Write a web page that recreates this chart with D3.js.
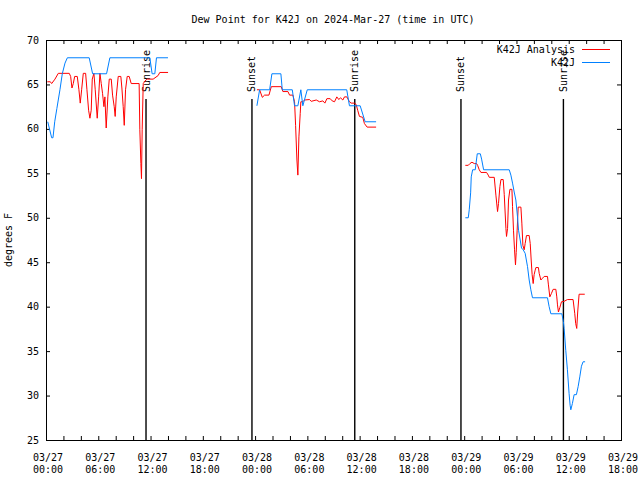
<!DOCTYPE html>
<html><head><meta charset="utf-8">
<script src="https://cdn.jsdelivr.net/npm/d3@7"></script>
<style>
html,body{margin:0;padding:0;background:#fff;}
svg{display:block;}
text{font-family:"DejaVu Sans Mono","Liberation Mono",monospace;font-size:10px;fill:#000;}
</style></head>
<body>
<svg id="chart" width="640" height="480"></svg>
<script>
// ---- data (hours since 2024-03-27 00:00 UTC, degrees F) ----
const titleText = "Dew Point for K42J on 2024-Mar-27 (time in UTC)";
const yLabel = "degrees F";
const seriesNames = ["K42J Analysis", "K42J"];
const seriesColors = ["#ff0000", "#0080ff"];
const yTicks = [25, 30, 35, 40, 45, 50, 55, 60, 65, 70];
const xLabelHours = [0, 6, 12, 18, 24, 30, 36, 42, 48, 54, 60, 66];

const analysisSeg1 = [[0.15,65.3],[0.5,65.3],[0.65,65.1],[1.03,65.6],[1.41,66.25],[2.67,66.25],[2.83,65.9],[2.98,64.6],[3.13,65.1],[3.29,65.9],[3.59,65.9],[3.78,64.4],[3.93,62.9],[4.09,64.4],[4.28,66.25],[4.55,66.25],[4.70,64.4],[4.89,62.1],[5.04,61.2],[5.19,62.1],[5.31,65.6],[5.50,66.25],[5.65,64.4],[5.88,61.2],[6.04,63.6],[6.19,66.25],[6.34,65.1],[6.49,64.0],[6.65,62.5],[6.76,63.6],[6.91,60.1],[7.10,63.6],[7.26,65.6],[7.49,65.6],[7.64,63.8],[7.83,62.5],[7.94,61.4],[8.06,63.6],[8.29,65.9],[8.59,65.9],[8.71,64.6],[8.86,62.5],[8.98,60.4],[9.13,64.4],[9.32,65.9],[9.55,65.9],[9.78,65.1],[10.69,65.1],[10.77,59.9],[10.89,56.1],[10.96,54.4],[11.04,59.9],[11.16,65.1],[11.46,65.5],[11.65,65.6],[12.30,65.6],[12.87,66.0],[13.06,66.35],[14.01,66.35]];
const analysisSeg2 = [[24.21,64.4],[24.52,64.4],[24.83,63.55],[25.09,63.8],[25.59,63.8],[25.86,64.75],[27.0,64.75],[27.19,64.2],[27.77,64.2],[27.96,63.8],[28.34,63.8],[28.53,63.05],[28.65,60.4],[28.80,56.5],[28.91,54.8],[29.03,59.1],[29.18,61.75],[29.25,63.05],[29.48,63.05],[29.68,63.25],[30.25,63.3],[30.44,63.1],[31.02,63.25],[31.40,63.05],[31.78,63.15],[32.01,62.9],[32.24,63.4],[32.62,63.4],[32.85,63.15],[33.12,63.05],[33.38,63.6],[33.61,63.3],[33.80,63.5],[34.07,63.25],[34.26,63.6],[34.53,63.6],[34.83,63.05],[35.03,62.9],[35.41,62.9],[35.60,62.75],[35.79,62.05],[35.98,61.4],[36.36,61.3],[36.55,60.6],[36.86,60.2],[37.89,60.2]];
const analysisSeg3 = [[48.13,55.9],[48.47,55.9],[48.66,56.1],[48.89,56.25],[49.16,56.1],[49.42,56.1],[49.54,55.9],[49.73,55.4],[49.92,55.1],[50.57,55.1],[50.76,54.8],[50.88,54.55],[51.45,54.55],[51.64,52.55],[51.83,50.7],[51.94,51.6],[52.10,53.5],[52.22,54.3],[52.48,54.3],[52.60,52.6],[52.79,48.8],[52.86,47.9],[52.98,48.8],[53.09,52.0],[53.25,53.2],[53.48,53.2],[53.55,51.25],[53.66,48.6],[53.78,46.4],[53.89,44.7],[53.97,46.1],[54.08,48.6],[54.20,51.2],[54.51,51.2],[54.62,49.4],[54.74,46.9],[54.89,46.4],[55.0,47.1],[55.15,48.0],[55.46,48.0],[55.58,47.1],[55.69,45.25],[55.80,43.6],[55.92,42.6],[56.03,43.6],[56.15,44.1],[56.23,44.4],[56.52,44.4],[56.61,43.75],[56.80,43.0],[56.99,43.2],[57.18,43.4],[57.56,43.4],[57.67,42.45],[57.83,41.1],[58.02,41.5],[58.21,41.95],[58.52,41.95],[58.63,41.1],[58.71,40.2],[58.82,39.4],[58.98,39.9],[59.17,40.55],[59.47,40.6],[59.85,40.8],[60.5,40.8],[60.69,39.25],[60.8,38.1],[60.92,37.55],[61.03,39.4],[61.19,41.4],[61.84,41.4]];

const obsSeg1 = [[0.2,60.8],[0.65,59.0],[0.8,59.0],[1.0,60.8],[1.25,62.3],[1.6,64.4],[1.87,66.2],[2.18,67.4],[2.45,68.0],[4.96,68.0],[5.35,66.2],[6.95,66.2],[7.33,68.0],[11.92,68.0],[12.18,66.2],[12.49,66.2],[12.68,68.0],[14.0,68.0]];
const obsSeg2 = [[24.21,62.6],[24.52,64.4],[25.67,64.4],[25.93,66.2],[26.96,66.2],[27.12,64.4],[28.27,64.4],[28.53,62.6],[28.91,62.6],[29.25,64.4],[29.48,62.6],[29.99,64.4],[34.52,64.4],[34.83,62.6],[36.06,62.6],[36.63,60.8],[37.89,60.8]];
const obsSeg3 = [[48.13,50.0],[48.47,50.0],[48.58,50.9],[48.74,52.8],[48.81,54.6],[48.97,55.4],[49.27,55.4],[49.50,57.2],[49.85,57.2],[50.0,56.6],[50.23,55.4],[53.17,55.4],[53.36,54.8],[53.55,53.9],[53.74,52.9],[53.93,52.0],[54.12,50.1],[54.24,48.6],[54.43,47.5],[54.58,46.6],[54.77,46.4],[55.0,46.0],[55.27,44.5],[55.46,43.0],[55.65,41.9],[55.84,41.0],[57.56,41.0],[57.75,40.0],[57.95,39.2],[59.21,39.2],[59.39,38.3],[59.47,37.55],[59.66,35.1],[59.85,32.9],[60.04,30.25],[60.16,28.9],[60.24,28.4],[60.42,29.1],[60.62,30.1],[60.88,30.1],[61.08,31.0],[61.27,32.1],[61.46,33.3],[61.65,33.8],[61.88,33.8]];

const sunHours = [11.48, 23.64, 35.44, 47.63, 59.39];
const sunLabels = ["Sunrise", "Sunset", "Sunrise", "Sunset", "Sunrise"];

// ---- drawing ----
const base = Date.UTC(2024, 2, 27, 0, 0);
const toDate = h => new Date(base + h * 3600e3);
const L = 46, R = 621, T = 40, B = 440;
const svg = d3.select("#chart");

const x = d3.scaleUtc().domain([toDate(0), toDate(66)]).range([L, R]);
const y = d3.scaleLinear().domain([25, 70]).range([B, T]);

// sunrise/sunset lines
const sun = svg.append("g");
sunHours.forEach((h, i) => {
  const xp = x(toDate(h));
  sun.append("line").attr("x1", xp).attr("x2", xp).attr("y1", 99).attr("y2", B)
    .attr("stroke", "#000").attr("stroke-width", 1.4);
  sun.append("text").attr("transform", `translate(${xp + 3.5},92) rotate(-90)`)
    .attr("text-anchor", "start").text(sunLabels[i]);
});

// axes (inward ticks, mirrored)
const every2h = d3.utcHour.every(2);
svg.append("g").attr("transform", `translate(0,${B})`)
  .call(d3.axisBottom(x).ticks(every2h).tickSize(-4).tickFormat(""))
  .call(g => g.select(".domain").remove());
svg.append("g").attr("transform", `translate(0,${T})`)
  .call(d3.axisTop(x).ticks(every2h).tickSize(-4).tickFormat(""))
  .call(g => g.select(".domain").remove());
svg.append("g").attr("transform", `translate(${L},0)`)
  .call(d3.axisLeft(y).tickValues(yTicks).tickSize(-4).tickFormat(""))
  .call(g => g.select(".domain").remove());
svg.append("g").attr("transform", `translate(${R},0)`)
  .call(d3.axisRight(y).tickValues(yTicks).tickSize(-4).tickFormat(""))
  .call(g => g.select(".domain").remove());
svg.selectAll(".tick line").attr("stroke", "#000");

svg.append("rect").attr("x", L + 0.5).attr("y", T + 0.5).attr("width", R - L).attr("height", B - T)
  .attr("fill", "none").attr("stroke", "#000").attr("stroke-width", 1);

// y tick labels
svg.append("g").selectAll("text").data(yTicks).join("text")
  .attr("x", L - 7).attr("y", d => y(d)).attr("dy", "0.35em")
  .attr("text-anchor", "end").text(d => d);

// x tick labels (two lines)
const fmtD = d3.utcFormat("%m/%d"), fmtT = d3.utcFormat("%H:%M");
const xl = svg.append("g").selectAll("text").data(xLabelHours).join("text")
  .attr("text-anchor", "middle");
xl.append("tspan").attr("x", h => x(toDate(h)) + 2).attr("y", 461).text(h => fmtD(toDate(h)));
xl.append("tspan").attr("x", h => x(toDate(h)) + 2).attr("y", 473).text(h => fmtT(toDate(h)));

// title & y label
svg.append("text").attr("x", 333).attr("y", 23).attr("text-anchor", "middle").text(titleText);
svg.append("text").attr("transform", "translate(12,240) rotate(-90)").attr("text-anchor", "middle").text(yLabel);

// series
const line = d3.line().x(d => x(toDate(d[0]))).y(d => y(d[1]));
const groups = [[analysisSeg1, analysisSeg2, analysisSeg3], [obsSeg1, obsSeg2, obsSeg3]];
groups.forEach((segs, i) => {
  svg.append("g").selectAll("path").data(segs).join("path")
    .attr("d", line).attr("fill", "none").attr("stroke", seriesColors[i]).attr("stroke-width", 1);
});

// legend
const lg = svg.append("g");
seriesNames.forEach((n, i) => {
  const yy = 49.5 + i * 13;
  lg.append("text").attr("x", 575).attr("y", yy).attr("dy", "0.35em").attr("text-anchor", "end").text(n);
  lg.append("line").attr("x1", 582).attr("x2", 610).attr("y1", yy).attr("y2", yy)
    .attr("stroke", seriesColors[i]).attr("stroke-width", 1);
});
</script>
</body></html>
